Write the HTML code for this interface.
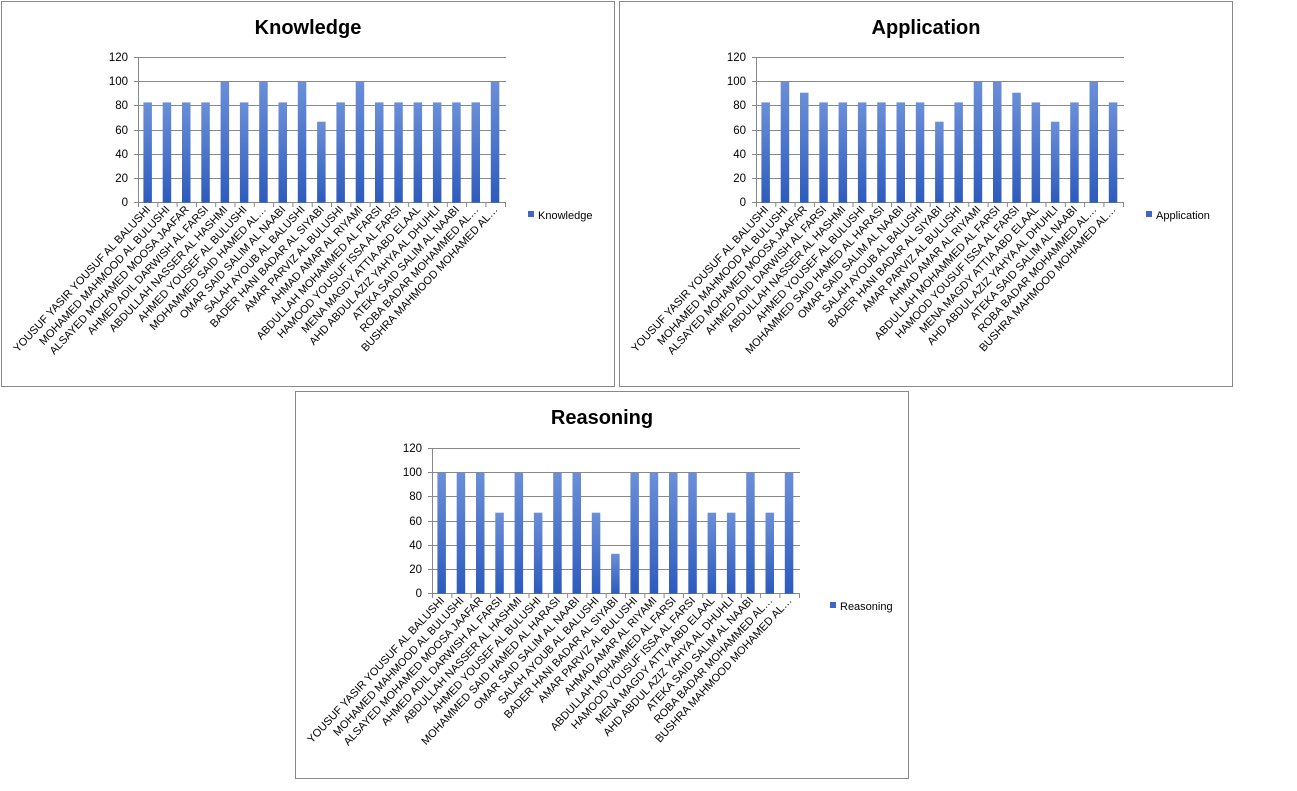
<!DOCTYPE html>
<html><head><meta charset="utf-8"><style>
body{margin:0;background:#fff;width:1297px;height:786px;overflow:hidden}
svg{font-family:"Liberation Sans",sans-serif}
.l{font-size:11px;fill:#000;text-anchor:end}
.y{font-size:11.5px;fill:#000;text-anchor:end}
.t{font-size:20px;font-weight:bold;text-anchor:middle}
</style></head><body>
<svg width="1297" height="786" xmlns="http://www.w3.org/2000/svg">
<defs>
<linearGradient id="g" x1="0" y1="0" x2="0" y2="1"><stop offset="0" stop-color="#6b8fd8"/><stop offset="1" stop-color="#2d5bbd"/></linearGradient>
<g id="ax">
<g stroke="#888" stroke-width="1">
<line x1="138" y1="57.5" x2="506" y2="57.5"/><line x1="138" y1="81.5" x2="506" y2="81.5"/><line x1="138" y1="105.5" x2="506" y2="105.5"/><line x1="138" y1="130.5" x2="506" y2="130.5"/><line x1="138" y1="154.5" x2="506" y2="154.5"/><line x1="138" y1="178.5" x2="506" y2="178.5"/><line x1="138" y1="202.5" x2="506" y2="202.5"/>
<line x1="138.5" y1="57" x2="138.5" y2="203"/>
<line x1="134" y1="57.5" x2="138" y2="57.5"/><line x1="134" y1="81.5" x2="138" y2="81.5"/><line x1="134" y1="105.5" x2="138" y2="105.5"/><line x1="134" y1="130.5" x2="138" y2="130.5"/><line x1="134" y1="154.5" x2="138" y2="154.5"/><line x1="134" y1="178.5" x2="138" y2="178.5"/><line x1="134" y1="202.5" x2="138" y2="202.5"/>
<path d="M157.8 202v5M177.1 202v5M196.4 202v5M215.7 202v5M235 202v5M254.3 202v5M273.6 202v5M292.9 202v5M312.2 202v5M331.5 202v5M350.8 202v5M370.1 202v5M389.4 202v5M408.7 202v5M428 202v5M447.3 202v5M466.6 202v5M485.9 202v5M505.5 202v5M138.5 202v5"/>
</g>
<text class="y" x="128" y="61">120</text><text class="y" x="128" y="85">100</text><text class="y" x="128" y="109">80</text><text class="y" x="128" y="134">60</text><text class="y" x="128" y="158">40</text><text class="y" x="128" y="182">20</text><text class="y" x="128" y="206">0</text>
</g>
</defs>

<rect x="1.5" y="1.5" width="613" height="385" fill="none" stroke="#888"/>
<rect x="619.5" y="1.5" width="613" height="385" fill="none" stroke="#888"/>
<rect x="295.5" y="391.5" width="613" height="387" fill="none" stroke="#888"/>

<!-- Knowledge -->
<g>
<text class="t" x="308" y="34">Knowledge</text>
<use href="#ax"/>
<g fill="url(#g)">
<rect x="143.4" y="102.4" width="8.5" height="100.3"/><rect x="162.7" y="102.4" width="8.5" height="100.3"/><rect x="182" y="102.4" width="8.5" height="100.3"/><rect x="201.3" y="102.4" width="8.5" height="100.3"/><rect x="220.6" y="81.9" width="8.5" height="120.8"/><rect x="239.9" y="102.4" width="8.5" height="100.3"/><rect x="259.2" y="81.9" width="8.5" height="120.8"/><rect x="278.5" y="102.4" width="8.5" height="100.3"/><rect x="297.8" y="81.9" width="8.5" height="120.8"/><rect x="317.1" y="121.7" width="8.5" height="81"/><rect x="336.4" y="102.4" width="8.5" height="100.3"/><rect x="355.7" y="81.9" width="8.5" height="120.8"/><rect x="375" y="102.4" width="8.5" height="100.3"/><rect x="394.3" y="102.4" width="8.5" height="100.3"/><rect x="413.6" y="102.4" width="8.5" height="100.3"/><rect x="432.9" y="102.4" width="8.5" height="100.3"/><rect x="452.2" y="102.4" width="8.5" height="100.3"/><rect x="471.5" y="102.4" width="8.5" height="100.3"/><rect x="490.8" y="81.9" width="8.5" height="120.8"/>
</g>
<rect x="528" y="211" width="6" height="6" fill="#3f68c6"/><text x="538" y="219" font-size="11">Knowledge</text>
<text class="l" transform="translate(151,210) rotate(-47)">YOUSUF YASIR YOUSUF AL BALUSHI</text>
<text class="l" transform="translate(170.3,210) rotate(-47)">MOHAMED MAHMOOD AL BULUSHI</text>
<text class="l" transform="translate(189.6,210) rotate(-47)">ALSAYED MOHAMED  MOOSA JAAFAR</text>
<text class="l" transform="translate(208.9,210) rotate(-47)">AHMED ADIL DARWISH  AL FARSI</text>
<text class="l" transform="translate(228.2,210) rotate(-47)">ABDULLAH NASSER AL HASHMI</text>
<text class="l" transform="translate(247.5,210) rotate(-47)">AHMED YOUSEF  AL BULUSHI</text>
<text class="l" transform="translate(266.8,210) rotate(-47)">MOHAMMED SAID HAMED AL…</text>
<text class="l" transform="translate(286.1,210) rotate(-47)">OMAR SAID SALIM AL NAABI</text>
<text class="l" transform="translate(305.4,210) rotate(-47)">SALAH AYOUB  AL BALUSHI</text>
<text class="l" transform="translate(324.7,210) rotate(-47)">BADER HANI BADAR  AL SIYABI</text>
<text class="l" transform="translate(344,210) rotate(-47)">AMAR PARVIZ  AL BULUSHI</text>
<text class="l" transform="translate(363.3,210) rotate(-47)">AHMAD AMAR  AL RIYAMI</text>
<text class="l" transform="translate(382.6,210) rotate(-47)">ABDULLAH MOHAMMED AL FARSI</text>
<text class="l" transform="translate(401.9,210) rotate(-47)">HAMOOD YOUSUF ISSA AL FARSI</text>
<text class="l" transform="translate(421.2,210) rotate(-47)">MENA MAGDY ATTIA ABD ELAAL</text>
<text class="l" transform="translate(440.5,210) rotate(-47)">AHD ABDUL AZIZ  YAHYA  AL DHUHLI</text>
<text class="l" transform="translate(459.8,210) rotate(-47)">ATEKA SAID SALIM AL NAABI</text>
<text class="l" transform="translate(479.1,210) rotate(-47)">ROBA BADAR MOHAMMED AL…</text>
<text class="l" transform="translate(498.4,210) rotate(-47)">BUSHRA MAHMOOD MOHAMED AL…</text>
</g>

<!-- Application -->
<g transform="translate(618,0)">
<text class="t" x="308" y="34">Application</text>
<use href="#ax"/>
<g fill="url(#g)">
<rect x="143.4" y="102.4" width="8.5" height="100.3"/><rect x="162.7" y="81.9" width="8.5" height="120.8"/><rect x="182" y="92.7" width="8.5" height="110"/><rect x="201.3" y="102.4" width="8.5" height="100.3"/><rect x="220.6" y="102.4" width="8.5" height="100.3"/><rect x="239.9" y="102.4" width="8.5" height="100.3"/><rect x="259.2" y="102.4" width="8.5" height="100.3"/><rect x="278.5" y="102.4" width="8.5" height="100.3"/><rect x="297.8" y="102.4" width="8.5" height="100.3"/><rect x="317.1" y="121.7" width="8.5" height="81"/><rect x="336.4" y="102.4" width="8.5" height="100.3"/><rect x="355.7" y="81.9" width="8.5" height="120.8"/><rect x="375" y="81.9" width="8.5" height="120.8"/><rect x="394.3" y="92.7" width="8.5" height="110"/><rect x="413.6" y="102.4" width="8.5" height="100.3"/><rect x="432.9" y="121.7" width="8.5" height="81"/><rect x="452.2" y="102.4" width="8.5" height="100.3"/><rect x="471.5" y="81.9" width="8.5" height="120.8"/><rect x="490.8" y="102.4" width="8.5" height="100.3"/>
</g>
<rect x="528" y="211" width="6" height="6" fill="#3f68c6"/><text x="538" y="219" font-size="11">Application</text>
<text class="l" transform="translate(151,210) rotate(-47)">YOUSUF YASIR YOUSUF AL BALUSHI</text>
<text class="l" transform="translate(170.3,210) rotate(-47)">MOHAMED MAHMOOD AL BULUSHI</text>
<text class="l" transform="translate(189.6,210) rotate(-47)">ALSAYED MOHAMED  MOOSA JAAFAR</text>
<text class="l" transform="translate(208.9,210) rotate(-47)">AHMED ADIL DARWISH  AL FARSI</text>
<text class="l" transform="translate(228.2,210) rotate(-47)">ABDULLAH NASSER AL HASHMI</text>
<text class="l" transform="translate(247.5,210) rotate(-47)">AHMED YOUSEF  AL BULUSHI</text>
<text class="l" transform="translate(266.8,210) rotate(-47)">MOHAMMED SAID HAMED AL HARASI</text>
<text class="l" transform="translate(286.1,210) rotate(-47)">OMAR SAID SALIM AL NAABI</text>
<text class="l" transform="translate(305.4,210) rotate(-47)">SALAH AYOUB  AL BALUSHI</text>
<text class="l" transform="translate(324.7,210) rotate(-47)">BADER HANI BADAR  AL SIYABI</text>
<text class="l" transform="translate(344,210) rotate(-47)">AMAR PARVIZ  AL BULUSHI</text>
<text class="l" transform="translate(363.3,210) rotate(-47)">AHMAD AMAR  AL RIYAMI</text>
<text class="l" transform="translate(382.6,210) rotate(-47)">ABDULLAH MOHAMMED AL FARSI</text>
<text class="l" transform="translate(401.9,210) rotate(-47)">HAMOOD YOUSUF ISSA AL FARSI</text>
<text class="l" transform="translate(421.2,210) rotate(-47)">MENA MAGDY ATTIA ABD ELAAL</text>
<text class="l" transform="translate(440.5,210) rotate(-47)">AHD ABDUL AZIZ  YAHYA  AL DHUHLI</text>
<text class="l" transform="translate(459.8,210) rotate(-47)">ATEKA SAID SALIM AL NAABI</text>
<text class="l" transform="translate(479.1,210) rotate(-47)">ROBA BADAR MOHAMMED AL…</text>
<text class="l" transform="translate(498.4,210) rotate(-47)">BUSHRA MAHMOOD MOHAMED AL…</text>
</g>

<!-- Reasoning -->
<g transform="translate(294,391)">
<text class="t" x="308" y="33">Reasoning</text>
<use href="#ax"/>
<g fill="url(#g)">
<rect x="143.4" y="81.9" width="8.5" height="120.8"/><rect x="162.7" y="81.9" width="8.5" height="120.8"/><rect x="182" y="81.9" width="8.5" height="120.8"/><rect x="201.3" y="121.7" width="8.5" height="81"/><rect x="220.6" y="81.9" width="8.5" height="120.8"/><rect x="239.9" y="121.7" width="8.5" height="81"/><rect x="259.2" y="81.9" width="8.5" height="120.8"/><rect x="278.5" y="81.9" width="8.5" height="120.8"/><rect x="297.8" y="121.7" width="8.5" height="81"/><rect x="317.1" y="162.8" width="8.5" height="39.9"/><rect x="336.4" y="81.9" width="8.5" height="120.8"/><rect x="355.7" y="81.9" width="8.5" height="120.8"/><rect x="375" y="81.9" width="8.5" height="120.8"/><rect x="394.3" y="81.9" width="8.5" height="120.8"/><rect x="413.6" y="121.7" width="8.5" height="81"/><rect x="432.9" y="121.7" width="8.5" height="81"/><rect x="452.2" y="81.9" width="8.5" height="120.8"/><rect x="471.5" y="121.7" width="8.5" height="81"/><rect x="490.8" y="81.9" width="8.5" height="120.8"/>
</g>
<rect x="536" y="211" width="6" height="6" fill="#3f68c6"/><text x="546" y="219" font-size="11">Reasoning</text>
<text class="l" transform="translate(151,210) rotate(-47)">YOUSUF YASIR YOUSUF AL BALUSHI</text>
<text class="l" transform="translate(170.3,210) rotate(-47)">MOHAMED MAHMOOD AL BULUSHI</text>
<text class="l" transform="translate(189.6,210) rotate(-47)">ALSAYED MOHAMED  MOOSA JAAFAR</text>
<text class="l" transform="translate(208.9,210) rotate(-47)">AHMED ADIL DARWISH  AL FARSI</text>
<text class="l" transform="translate(228.2,210) rotate(-47)">ABDULLAH NASSER AL HASHMI</text>
<text class="l" transform="translate(247.5,210) rotate(-47)">AHMED YOUSEF  AL BULUSHI</text>
<text class="l" transform="translate(266.8,210) rotate(-47)">MOHAMMED SAID HAMED AL HARASI</text>
<text class="l" transform="translate(286.1,210) rotate(-47)">OMAR SAID SALIM AL NAABI</text>
<text class="l" transform="translate(305.4,210) rotate(-47)">SALAH AYOUB  AL BALUSHI</text>
<text class="l" transform="translate(324.7,210) rotate(-47)">BADER HANI BADAR  AL SIYABI</text>
<text class="l" transform="translate(344,210) rotate(-47)">AMAR PARVIZ  AL BULUSHI</text>
<text class="l" transform="translate(363.3,210) rotate(-47)">AHMAD AMAR  AL RIYAMI</text>
<text class="l" transform="translate(382.6,210) rotate(-47)">ABDULLAH MOHAMMED AL FARSI</text>
<text class="l" transform="translate(401.9,210) rotate(-47)">HAMOOD YOUSUF ISSA AL FARSI</text>
<text class="l" transform="translate(421.2,210) rotate(-47)">MENA MAGDY ATTIA ABD ELAAL</text>
<text class="l" transform="translate(440.5,210) rotate(-47)">AHD ABDUL AZIZ  YAHYA  AL DHUHLI</text>
<text class="l" transform="translate(459.8,210) rotate(-47)">ATEKA SAID SALIM AL NAABI</text>
<text class="l" transform="translate(479.1,210) rotate(-47)">ROBA BADAR MOHAMMED AL…</text>
<text class="l" transform="translate(498.4,210) rotate(-47)">BUSHRA MAHMOOD MOHAMED AL…</text>
</g>
</svg>
</body></html>
